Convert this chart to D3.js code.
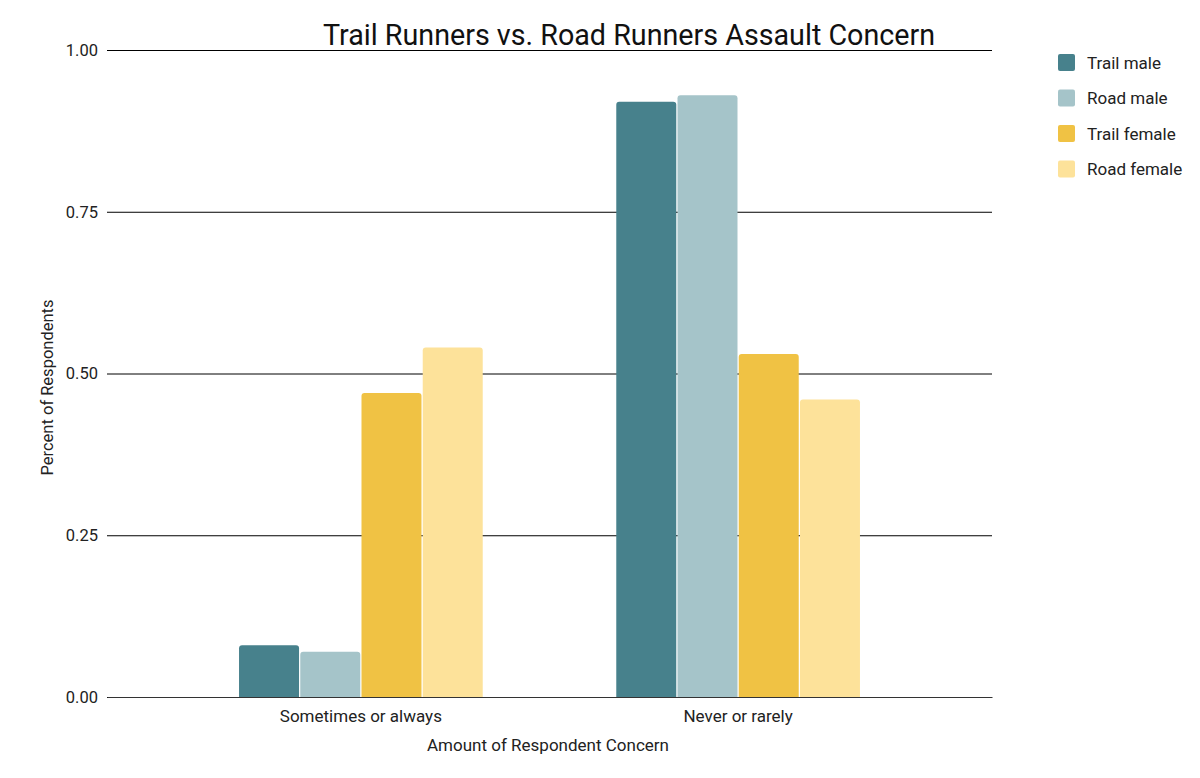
<!DOCTYPE html>
<html lang="en">
<head>
<meta charset="UTF-8" />
<title>Trail Runners vs. Road Runners Assault Concern</title>
<script src="https://d3js.org/d3.v7.min.js"></script>
<style>
    body { margin: 0; background: #fff; font-family: Roboto, Arial, sans-serif; }
    svg { display: block; }
</style>
</head>
<body>
<div id="chart"></div>
<script>
    // Chart data
    const categories = ["Sometimes or always", "Never or rarely"];
    const seriesNames = ["Trail male", "Road male", "Trail female", "Road female"];
    const trailMale = [0.08, 0.92];
    const roadMale = [0.07, 0.93];
    const trailFemale = [0.47, 0.53];
    const roadFemale = [0.54, 0.46];
    const yTicks = [0, 0.25, 0.5, 0.75, 1];
    const colors = ["#47818c", "#a5c4c9", "#f0c244", "#fde29a"];

    const seriesValues = [trailMale, roadMale, trailFemale, roadFemale];

    const width = 1200, height = 778;
    const margin = { top: 50, right: 208, bottom: 81, left: 107 };
    const plotW = width - margin.left - margin.right;
    const plotH = height - margin.top - margin.bottom;

    const svg = d3.select("#chart").append("svg")
        .attr("width", width)
        .attr("height", height);

    const g = svg.append("g")
        .attr("transform", `translate(${margin.left},${margin.top})`);

    const x0 = d3.scaleBand().domain(categories).range([0, plotW]).paddingInner(0.354).paddingOuter(0.35);
    const x1 = d3.scaleBand().domain(seriesNames).range([0, x0.bandwidth()]).paddingInner(0.02);
    const y = d3.scaleLinear().domain([0, 1]).range([plotH, 0]);

    // Gridlines + y labels
    const yAxis = d3.axisLeft(y).tickValues(yTicks).tickFormat(d3.format(".2f"))
        .tickSize(-plotW).tickPadding(9);
    g.append("g").call(yAxis)
        .call(s => s.select(".domain").remove())
        .call(s => s.selectAll(".tick line").attr("stroke", "#000").attr("stroke-width", 1))
        .call(s => s.selectAll(".tick text").attr("fill", "#222").style("font-size", "16.5px").style("font-family", "Roboto"));

    // Bars
    const rows = categories.map((c, i) => ({ cat: c, vals: seriesNames.map((n, j) => ({ name: n, v: seriesValues[j][i], c: colors[j] })) }));
    const groups = g.selectAll(".grp").data(rows).join("g")
        .attr("transform", d => `translate(${x0(d.cat)},0)`);
    groups.selectAll("path").data(d => d.vals).join("path")
        .attr("fill", d => d.c)
        .attr("d", d => {
            const bx = x1(d.name), bw = x1.bandwidth(), by = y(d.v), r = 3;
            return `M${bx},${plotH}V${by + r}Q${bx},${by} ${bx + r},${by}H${bx + bw - r}Q${bx + bw},${by} ${bx + bw},${by + r}V${plotH}Z`;
        });

    // x axis baseline + labels
    const xAxis = d3.axisBottom(x0).tickSize(0).tickPadding(13);
    g.append("g").attr("transform", `translate(0,${plotH})`).call(xAxis)
        .call(s => s.select(".domain").attr("stroke", "#333"))
        .call(s => s.selectAll(".tick text").attr("fill", "#222").style("font-size", "17px").style("font-family", "Roboto"));

    // Axis titles
    svg.append("text")
        .attr("x", 548).attr("y", 751)
        .attr("text-anchor", "middle")
        .attr("fill", "#222").style("font-size", "17px")
        .text("Amount of Respondent Concern");
    svg.append("text")
        .attr("transform", `translate(53,${margin.top + plotH / 2 + 14}) rotate(-90)`)
        .attr("text-anchor", "middle")
        .attr("fill", "#222").style("font-size", "16.5px")
        .text("Percent of Respondents");

    // Title
    svg.append("text")
        .attr("x", 629).attr("y", 45)
        .attr("text-anchor", "middle")
        .attr("fill", "#111").style("font-size", "28.7px")
        .text("Trail Runners vs. Road Runners Assault Concern");

    // Legend
    const legend = svg.append("g").attr("transform", "translate(1058,54)");
    const items = legend.selectAll("g").data(seriesNames).join("g")
        .attr("transform", (d, i) => `translate(0,${i * 35.5})`);
    items.append("rect").attr("width", 17).attr("height", 17).attr("rx", 2)
        .attr("fill", (d, i) => colors[i]);
    items.append("text").attr("x", 29).attr("y", 14.5)
        .attr("fill", "#222").style("font-size", "17px")
        .text(d => d);
</script>
</body>
</html>
